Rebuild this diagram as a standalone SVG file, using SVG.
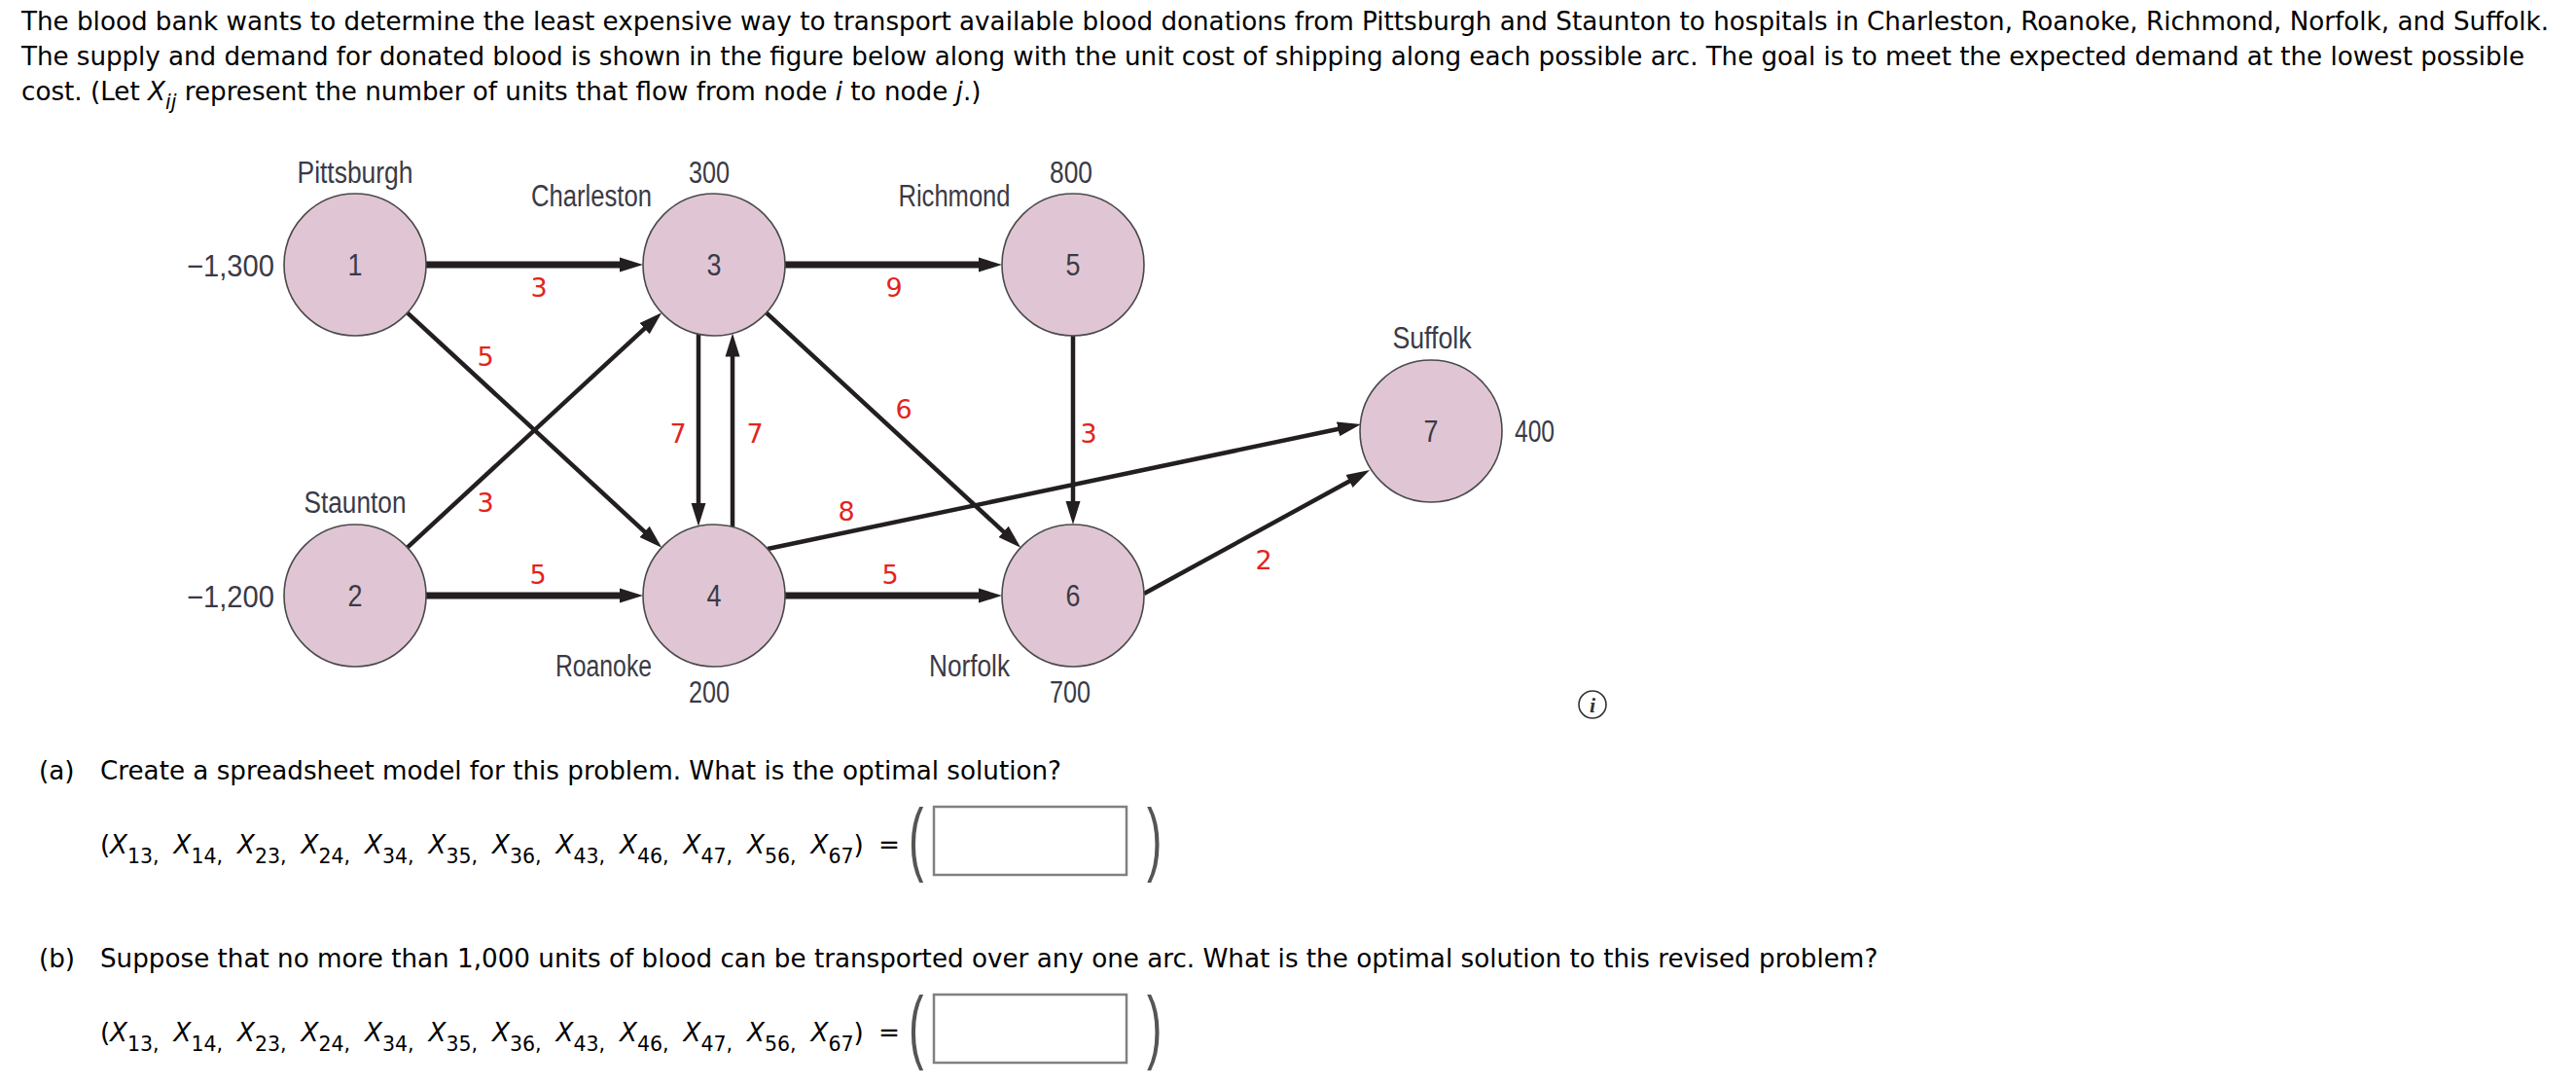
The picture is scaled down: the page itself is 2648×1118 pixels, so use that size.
<svg xmlns="http://www.w3.org/2000/svg" width="2648" height="1118" viewBox="0 0 2648 1118">
<style>
.q{font-family:"DejaVu Sans","Verdana",sans-serif;font-size:26.2px;fill:#000}
.it{font-style:italic}
.sub{font-size:20.5px}
.lbl{font-family:"Liberation Sans Narrow","Liberation Sans",sans-serif;font-size:31px;fill:#3a3a46}
.mid{text-anchor:middle}
.end{text-anchor:end}
.cost{font-family:"DejaVu Sans","Verdana",sans-serif;font-size:27px;fill:#e3241b;text-anchor:middle}
.node{fill:#e0c6d4;stroke:#4a4a4a;stroke-width:1.6}
.thick{stroke:#231f20;stroke-width:7;fill:none}
.thin{stroke:#231f20;stroke-width:4.5;fill:none}
.box{fill:#fff;stroke:#808080;stroke-width:2.5}
.par{font-family:"Liberation Sans",sans-serif;font-size:84px;fill:#555}
</style>
<defs>
<marker id="ah" markerUnits="userSpaceOnUse" markerWidth="30" markerHeight="20" viewBox="0 -10 30 20" refX="8" refY="0" orient="auto">
<path d="M0,-7.5 L24,0 L0,7.5 Z" fill="#231f20"/>
</marker>
</defs>
<rect width="2648" height="1118" fill="#fff"/>

<g id="question">
<text class="q" x="22" y="31" textLength="2598" lengthAdjust="spacing">The blood bank wants to determine the least expensive way to transport available blood donations from Pittsburgh and Staunton to hospitals in Charleston, Roanoke, Richmond, Norfolk, and Suffolk.</text>
<text class="q" x="22" y="67" textLength="2573" lengthAdjust="spacing">The supply and demand for donated blood is shown in the figure below along with the unit cost of shipping along each possible arc. The goal is to meet the expected demand at the lowest possible</text>
<text class="q" x="22" y="103">cost. (Let <tspan class="it">X</tspan><tspan class="it sub" dy="9">ij</tspan><tspan dy="-9"> represent the number of units that flow from node </tspan><tspan class="it">i</tspan> to node <tspan class="it">j</tspan>.)</text>
</g>

<g id="connectors">
<line class="thick" x1="438" y1="272" x2="645" y2="272" marker-end="url(#ah)"/>
<line class="thick" x1="807" y1="272" x2="1014" y2="272" marker-end="url(#ah)"/>
<line class="thick" x1="438" y1="612" x2="645" y2="612" marker-end="url(#ah)"/>
<line class="thick" x1="807" y1="612" x2="1014" y2="612" marker-end="url(#ah)"/>
<line class="thin" x1="418.7" y1="321.4" x2="668.5" y2="551.8" marker-end="url(#ah)"/>
<line class="thin" x1="418.7" y1="562.6" x2="668.5" y2="332.2" marker-end="url(#ah)"/>
<line class="thin" x1="787.7" y1="321.4" x2="1037.5" y2="551.8" marker-end="url(#ah)"/>
<line class="thin" x1="718" y1="343" x2="718" y2="524.8" marker-end="url(#ah)"/>
<line class="thin" x1="753" y1="541.5" x2="753" y2="358.5" marker-end="url(#ah)"/>
<line class="thin" x1="1103" y1="345" x2="1103" y2="523" marker-end="url(#ah)"/>
<line class="thin" x1="789" y1="564" x2="1383.3" y2="439.3" marker-end="url(#ah)"/>
<line class="thin" x1="1176" y1="610" x2="1394" y2="490.7" marker-end="url(#ah)"/>
<text class="cost" x="554" y="305">3</text>
<text class="cost" x="499" y="376">5</text>
<text class="cost" x="499" y="526">3</text>
<text class="cost" x="553" y="600">5</text>
<text class="cost" x="697" y="455">7</text>
<text class="cost" x="776" y="455">7</text>
<text class="cost" x="919" y="305">9</text>
<text class="cost" x="929" y="430">6</text>
<text class="cost" x="870" y="535">8</text>
<text class="cost" x="1119" y="455">3</text>
<text class="cost" x="915" y="600">5</text>
<text class="cost" x="1299" y="585">2</text>
</g>

<g id="node1">
<circle class="node" cx="365" cy="272" r="73"/>
<text class="lbl mid" x="365" y="283" textLength="15" lengthAdjust="spacingAndGlyphs">1</text>
<text class="lbl mid" x="365" y="188" textLength="119" lengthAdjust="spacingAndGlyphs">Pittsburgh</text>
<text class="lbl end" x="282" y="284" textLength="90" lengthAdjust="spacingAndGlyphs">−1,300</text>
</g>
<g id="node2">
<circle class="node" cx="365" cy="612" r="73"/>
<text class="lbl mid" x="365" y="623" textLength="15" lengthAdjust="spacingAndGlyphs">2</text>
<text class="lbl mid" x="365" y="527" textLength="105" lengthAdjust="spacingAndGlyphs">Staunton</text>
<text class="lbl end" x="282" y="624" textLength="90" lengthAdjust="spacingAndGlyphs">−1,200</text>
</g>
<g id="node3">
<circle class="node" cx="734" cy="272" r="73"/>
<text class="lbl mid" x="734" y="283" textLength="15" lengthAdjust="spacingAndGlyphs">3</text>
<text class="lbl mid" x="608" y="212" textLength="124" lengthAdjust="spacingAndGlyphs">Charleston</text>
<text class="lbl mid" x="729" y="188" textLength="42" lengthAdjust="spacingAndGlyphs">300</text>
</g>
<g id="node4">
<circle class="node" cx="734" cy="612" r="73"/>
<text class="lbl mid" x="734" y="623" textLength="15" lengthAdjust="spacingAndGlyphs">4</text>
<text class="lbl end" x="670" y="695" textLength="99" lengthAdjust="spacingAndGlyphs">Roanoke</text>
<text class="lbl mid" x="729" y="722" textLength="42" lengthAdjust="spacingAndGlyphs">200</text>
</g>
<g id="node5">
<circle class="node" cx="1103" cy="272" r="73"/>
<text class="lbl mid" x="1103" y="283" textLength="15" lengthAdjust="spacingAndGlyphs">5</text>
<text class="lbl mid" x="981" y="212" textLength="115" lengthAdjust="spacingAndGlyphs">Richmond</text>
<text class="lbl mid" x="1101" y="188" textLength="44" lengthAdjust="spacingAndGlyphs">800</text>
</g>
<g id="node6">
<circle class="node" cx="1103" cy="612" r="73"/>
<text class="lbl mid" x="1103" y="623" textLength="15" lengthAdjust="spacingAndGlyphs">6</text>
<text class="lbl end" x="1038" y="695" textLength="83" lengthAdjust="spacingAndGlyphs">Norfolk</text>
<text class="lbl mid" x="1100" y="722" textLength="42" lengthAdjust="spacingAndGlyphs">700</text>
</g>
<g id="node7">
<circle class="node" cx="1471" cy="443" r="73"/>
<text class="lbl mid" x="1471" y="454" textLength="15" lengthAdjust="spacingAndGlyphs">7</text>
<text class="lbl mid" x="1472" y="358" textLength="81" lengthAdjust="spacingAndGlyphs">Suffolk</text>
<text class="lbl" x="1557" y="454" textLength="41" lengthAdjust="spacingAndGlyphs">400</text>
</g>

<g id="info">
<circle cx="1637" cy="724" r="14" fill="none" stroke="#333" stroke-width="1.6"/>
<text x="1637" y="732" text-anchor="middle" font-family="Liberation Serif,serif" font-style="italic" font-weight="bold" font-size="22" fill="#333">i</text>
</g>

<g id="partA">
<text class="q" x="40" y="801">(a)</text>
<text class="q" x="103" y="801">Create a spreadsheet model for this problem. What is the optimal solution?</text>
<text class="q" x="103" y="877">(</text>
<text class="q" x="113" y="877"><tspan class="it">X</tspan><tspan class="sub" dy="10">13,</tspan></text>
<text class="q" x="178.5" y="877"><tspan class="it">X</tspan><tspan class="sub" dy="10">14,</tspan></text>
<text class="q" x="244" y="877"><tspan class="it">X</tspan><tspan class="sub" dy="10">23,</tspan></text>
<text class="q" x="309.5" y="877"><tspan class="it">X</tspan><tspan class="sub" dy="10">24,</tspan></text>
<text class="q" x="375" y="877"><tspan class="it">X</tspan><tspan class="sub" dy="10">34,</tspan></text>
<text class="q" x="440.5" y="877"><tspan class="it">X</tspan><tspan class="sub" dy="10">35,</tspan></text>
<text class="q" x="506" y="877"><tspan class="it">X</tspan><tspan class="sub" dy="10">36,</tspan></text>
<text class="q" x="571.5" y="877"><tspan class="it">X</tspan><tspan class="sub" dy="10">43,</tspan></text>
<text class="q" x="637" y="877"><tspan class="it">X</tspan><tspan class="sub" dy="10">46,</tspan></text>
<text class="q" x="702.5" y="877"><tspan class="it">X</tspan><tspan class="sub" dy="10">47,</tspan></text>
<text class="q" x="768" y="877"><tspan class="it">X</tspan><tspan class="sub" dy="10">56,</tspan></text>
<text class="q" x="833.5" y="877"><tspan class="it">X</tspan><tspan class="sub" dy="10">67</tspan><tspan dy="-10">)</tspan></text>
<text class="q" x="903" y="877">=</text>
<text class="par" x="0" y="890" transform="translate(934,0) scale(0.55,1)">(</text>
<rect class="box" x="960" y="829" width="198" height="70"/>
<text class="par" x="0" y="890" transform="translate(1179,0) scale(0.55,1)">)</text>
</g>

<g id="partB">
<text class="q" x="40" y="994">(b)</text>
<text class="q" x="103" y="994">Suppose that no more than 1,000 units of blood can be transported over any one arc. What is the optimal solution to this revised problem?</text>
<text class="q" x="103" y="1070">(</text>
<text class="q" x="113" y="1070"><tspan class="it">X</tspan><tspan class="sub" dy="10">13,</tspan></text>
<text class="q" x="178.5" y="1070"><tspan class="it">X</tspan><tspan class="sub" dy="10">14,</tspan></text>
<text class="q" x="244" y="1070"><tspan class="it">X</tspan><tspan class="sub" dy="10">23,</tspan></text>
<text class="q" x="309.5" y="1070"><tspan class="it">X</tspan><tspan class="sub" dy="10">24,</tspan></text>
<text class="q" x="375" y="1070"><tspan class="it">X</tspan><tspan class="sub" dy="10">34,</tspan></text>
<text class="q" x="440.5" y="1070"><tspan class="it">X</tspan><tspan class="sub" dy="10">35,</tspan></text>
<text class="q" x="506" y="1070"><tspan class="it">X</tspan><tspan class="sub" dy="10">36,</tspan></text>
<text class="q" x="571.5" y="1070"><tspan class="it">X</tspan><tspan class="sub" dy="10">43,</tspan></text>
<text class="q" x="637" y="1070"><tspan class="it">X</tspan><tspan class="sub" dy="10">46,</tspan></text>
<text class="q" x="702.5" y="1070"><tspan class="it">X</tspan><tspan class="sub" dy="10">47,</tspan></text>
<text class="q" x="768" y="1070"><tspan class="it">X</tspan><tspan class="sub" dy="10">56,</tspan></text>
<text class="q" x="833.5" y="1070"><tspan class="it">X</tspan><tspan class="sub" dy="10">67</tspan><tspan dy="-10">)</tspan></text>
<text class="q" x="903" y="1070">=</text>
<text class="par" x="0" y="1083" transform="translate(934,0) scale(0.55,1)">(</text>
<rect class="box" x="960" y="1022" width="198" height="70"/>
<text class="par" x="0" y="1083" transform="translate(1179,0) scale(0.55,1)">)</text>
</g>
</svg>
